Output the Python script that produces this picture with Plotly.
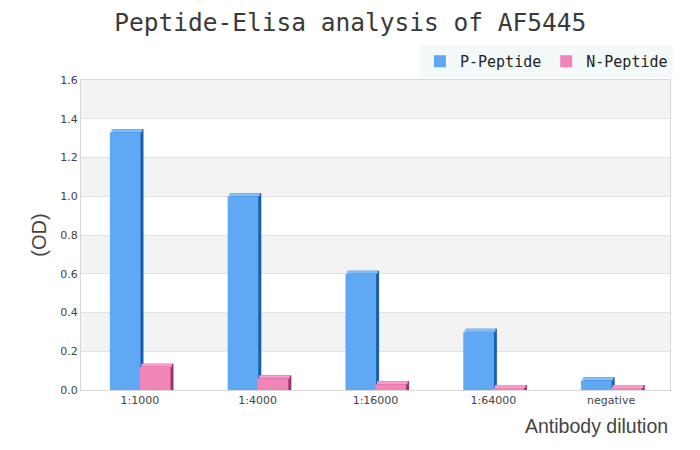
import plotly.graph_objects as go

categories = ["1:1000", "1:4000", "1:16000", "1:64000", "negative"]
p_peptide = [1.33, 1.00, 0.60, 0.30, 0.05]
n_peptide = [0.12, 0.06, 0.03, 0.01, 0.01]
y_ticks = [0.0, 0.2, 0.4, 0.6, 0.8, 1.0, 1.2, 1.4, 1.6]

# fake 3D depth: ~3px in each direction
DX = 0.0255
DY = 0.0155
WIDTH = 0.26

series = [
    ("P-Peptide", p_peptide, -0.255, "#60a8f4", "#1a5ea8", "#7fc0fb"),
    ("N-Peptide", n_peptide, 0.0, "#f285b8", "#a0336a", "#fa9bd0"),
]

fig = go.Figure()

for name, vals, off, face, side, top in series:
    # dark side, shifted right and up
    fig.add_trace(go.Bar(
        x=categories, y=[v + DY for v in vals], base=0,
        offset=off + DX, width=WIDTH,
        marker=dict(color=side, line=dict(width=0)),
        showlegend=False, hoverinfo="skip",
    ))
    # lighter top strip
    fig.add_trace(go.Bar(
        x=categories, y=[DY] * len(vals), base=vals,
        offset=off + DX / 2, width=WIDTH,
        marker=dict(color=top, line=dict(width=0)),
        showlegend=False, hoverinfo="skip",
    ))

for name, vals, off, face, side, top in series:
    fig.add_trace(go.Bar(
        x=categories, y=vals, name=name,
        offset=off, width=WIDTH,
        marker=dict(color=face, line=dict(width=0)),
    ))

# alternating bands
for i in range(len(y_ticks) - 1):
    if i % 2 == 1:
        fig.add_shape(
            type="rect", xref="paper", yref="y", x0=0, x1=1,
            y0=y_ticks[i], y1=y_ticks[i + 1],
            fillcolor="#f3f3f3", line=dict(width=0), layer="below",
        )

# page body adds 8px, margins compensate
fig.update_layout(
    width=700, height=450,
    barmode="overlay",
    paper_bgcolor="white", plot_bgcolor="white",
    margin=dict(l=73, r=38, t=72, b=68),
    title=dict(
        text="Peptide-Elisa analysis of AF5445",
        x=0.489, xref="container", xanchor="center",
        y=0.968, yref="container", yanchor="middle",
        font=dict(family="DejaVu Sans Mono", size=24.5, color="#3a3a3a"),
    ),
    legend=dict(
        orientation="h", x=1.005, xanchor="right", y=1.113, yanchor="top",
        bgcolor="#f4fafa", font=dict(family="DejaVu Sans Mono", size=15, color="#222222"),
        itemwidth=30, traceorder="normal",
    ),
    xaxis=dict(
        type="category", showgrid=False, ticks="",
        showline=True, linecolor="#d8d8d8", mirror=True,
        tickfont=dict(family="DejaVu Sans", size=11, color="#444444"),
        range=[-0.5, 4.5],
    ),
    yaxis=dict(
        range=[0, 1.6], tickvals=y_ticks, tickformat=".1f",
        showgrid=True, gridcolor="#e2e2e2", gridwidth=1,
        showline=True, linecolor="#d8d8d8", mirror=True, zeroline=False,
        tickfont=dict(family="DejaVu Sans", size=11, color="#444444"),
        title=dict(text="(OD)", font=dict(family="Liberation Sans", size=20, color="#444444"), standoff=8),
    ),
    annotations=[dict(
        text="Antibody dilution", xref="paper", yref="paper",
        x=1.0, y=-0.115, xanchor="right", yanchor="middle", showarrow=False,
        font=dict(family="Liberation Sans", size=19.5, color="#444444"),
    )],
)

fig.write_html("out.html")
